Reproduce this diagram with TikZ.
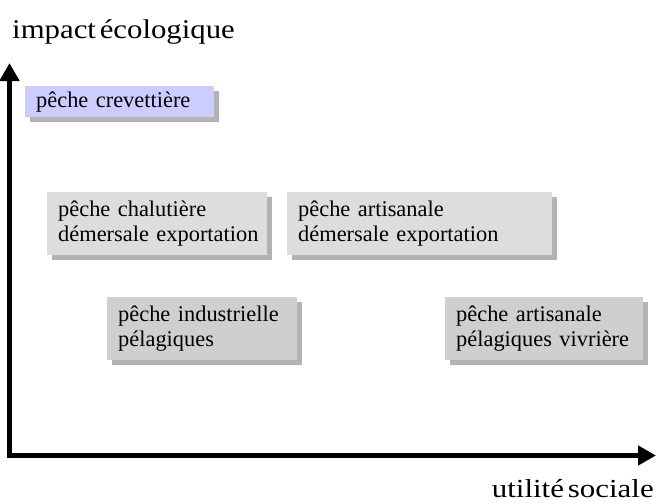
\documentclass[tikz,border=0pt]{standalone}
\usepackage{fontspec}
\setmainfont{Liberation Serif}[WordSpace=0.6]
\newfontfamily\titlefont{Liberation Serif}[FakeStretch=1.14,WordSpace=0.5]
\newfontfamily\xlabfont{Liberation Serif}[FakeStretch=1.19,WordSpace=0.5]
\usetikzlibrary{arrows.meta,shadows}
\definecolor{lav}{HTML}{CCCCFF}
\definecolor{lgray}{HTML}{DDDDDD}
\definecolor{mgray}{HTML}{CFCFCF}
\definecolor{shgray}{HTML}{B3B3B3}
\hbadness=10000 \hfuzz=50pt
\begin{document}
\begin{tikzpicture}[x=1pt,y=-1pt,
  axis/.style={line width=5pt,-{Triangle[length=18pt,width=19pt]}},
  boxnode/.style={anchor=north west,inner xsep=11pt,inner ysep=0pt,align=left,
    font=\fontsize{22.4}{25}\selectfont,
    drop shadow={shadow xshift=5pt,shadow yshift=-5pt,fill=shgray,opacity=1}},
  axlabel/.style={inner sep=0pt}]
\useasboundingbox (0,0) rectangle (657,504);
\coordinate (o) at (9.5,455.5);
\coordinate (ytop) at (9.5,63);
\coordinate (xend) at (656,455.5);
\draw[axis] ([yshift=-2.5pt]o) -- (ytop);
\draw[axis] ([xshift=-2pt]o) -- (xend);
\node[axlabel,anchor=base west,font=\titlefont\fontsize{27}{30}\selectfont] (ylab) at (12,38) {impact écologique};
\node[axlabel,anchor=base east,font=\xlabfont\fontsize{26}{30}\selectfont] (xlab) at (654,497) {utilité sociale};
\node[boxnode,fill=lav,minimum width=189pt,minimum height=31pt,text width=167pt] (b1) at (25,86) {\mbox{pêche crevettière}};
\node[boxnode,fill=lgray,minimum width=220pt,minimum height=63pt,text width=198pt] (b2) at (47,192) {\mbox{pêche chalutière}\\\mbox{démersale exportation}};
\node[boxnode,fill=lgray,minimum width=265pt,minimum height=63pt,text width=243pt] (b3) at (287,192) {\mbox{pêche artisanale}\\\mbox{démersale exportation}};
\node[boxnode,fill=mgray,minimum width=190pt,minimum height=63pt,text width=168pt] (b4) at (107,297) {\mbox{pêche industrielle}\\\mbox{pélagiques}};
\node[boxnode,fill=mgray,minimum width=198pt,minimum height=63pt,text width=176pt] (b5) at (445,297) {\mbox{pêche artisanale}\\\mbox{pélagiques vivrière}};
\end{tikzpicture}
\end{document}
